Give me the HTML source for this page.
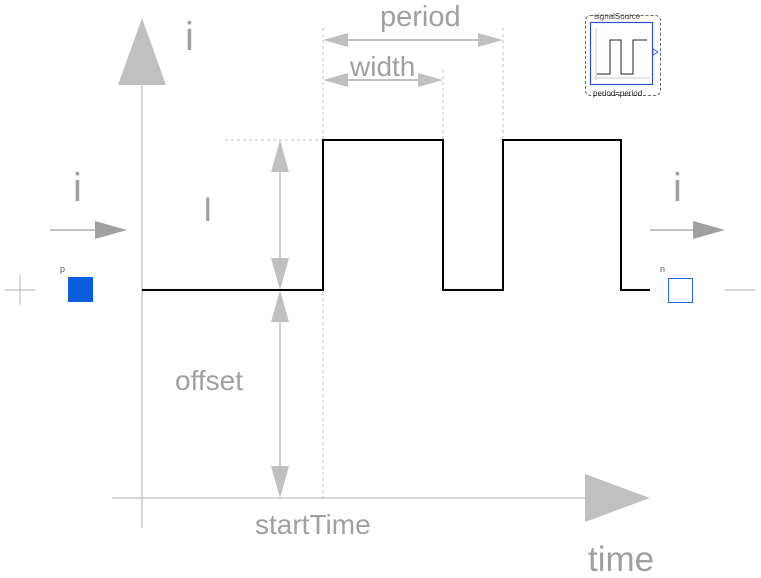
<!DOCTYPE html>
<html><head><meta charset="utf-8"><style>
body{margin:0;background:#fff}
svg{display:block}
text{font-family:"Liberation Sans",sans-serif;fill:#a0a0a0}
</style></head><body>
<svg width="761" height="578" viewBox="0 0 761 578">
<g>
<line x1="112" y1="498" x2="600" y2="498" stroke="#c8c8c8" stroke-width="1.5"/>
<polygon points="650,498 585,474 585,522" fill="#c0c0c0"/>
</g>
<g>
<line x1="142" y1="60" x2="142" y2="528" stroke="#c8c8c8" stroke-width="1.5"/>
<polygon points="142,18 118,85 166,85" fill="#c0c0c0"/>
</g>
<g stroke="#c0c0c0" stroke-dasharray="3,3" fill="none">
<line x1="323" y1="28" x2="323" y2="498"/>
<line x1="443" y1="70" x2="443" y2="140"/>
<line x1="503" y1="28" x2="503" y2="140"/>
<line x1="225" y1="140" x2="323" y2="140"/>
</g>
<g>
<line x1="340" y1="40" x2="486" y2="40" stroke="#c0c0c0" stroke-width="2"/>
<polygon points="323,40 348,33 348,47" fill="#c0c0c0"/>
<polygon points="503,40 478,33 478,47" fill="#c0c0c0"/>
<line x1="340" y1="80" x2="426" y2="80" stroke="#c0c0c0" stroke-width="2"/>
<polygon points="323,80 348,73 348,87" fill="#c0c0c0"/>
<polygon points="443,80 418,73 418,87" fill="#c0c0c0"/>
</g>
<g>
<line x1="280" y1="160" x2="280" y2="270" stroke="#c0c0c0" stroke-width="1.5"/>
<polygon points="280,140 271,172 289,172" fill="#c0c0c0"/>
<polygon points="280,290 271,258 289,258" fill="#c0c0c0"/>
<line x1="280" y1="310" x2="280" y2="478" stroke="#c0c0c0" stroke-width="1.5"/>
<polygon points="280,290 271,322 289,322" fill="#c0c0c0"/>
<polygon points="280,498 271,466 289,466" fill="#c0c0c0"/>
</g>
<polyline points="142,290 323,290 323,140 443,140 443,290 503,290 503,140 621,140 621,290 650,290" fill="none" stroke="#000" stroke-width="2"/>
<g>
<line x1="50" y1="230" x2="100" y2="230" stroke="#b0b0b0" stroke-width="1.5"/>
<polygon points="127,230 95,221 95,239" fill="#a0a0a0"/>
<line x1="650" y1="230" x2="700" y2="230" stroke="#b0b0b0" stroke-width="1.5"/>
<polygon points="725,230 693,221 693,239" fill="#a0a0a0"/>
</g>
<text x="185" y="50" font-size="40">i</text>
<text x="380" y="26" font-size="29">period</text>
<text x="350" y="76" font-size="28">width</text>
<text x="203" y="221" font-size="34">I</text>
<text x="175" y="390" font-size="28">offset</text>
<text x="255" y="534" font-size="28">startTime</text>
<text x="588" y="571" font-size="35">time</text>
<text x="73" y="201" font-size="40">i</text>
<text x="673" y="201" font-size="40">i</text>
<g stroke="#c0c0c0" stroke-width="1.2">
<line x1="5" y1="290" x2="35" y2="290"/><line x1="20" y1="275" x2="20" y2="305"/>
</g>
<line x1="725" y1="290" x2="755" y2="290" stroke="#c0c0c0" stroke-width="1.2"/>
<text x="60" y="272" font-size="9" style="fill:#555">p</text>
<rect x="68" y="277" width="25" height="25" fill="#0a5ddc"/>
<text x="660" y="272" font-size="9" style="fill:#555">n</text>
<rect x="668.5" y="278.5" width="24" height="24" fill="#fff" stroke="#2a6ad8"/>
<g>
<rect x="585.5" y="15.5" width="75" height="80" rx="5" fill="none" stroke="#666" stroke-dasharray="3,2"/>
<rect x="590.5" y="22.5" width="62" height="62" fill="#fff" stroke="#3050c8" stroke-width="1.2"/>
<line x1="596" y1="80" x2="596" y2="28" stroke="#ccc"/>
<line x1="594" y1="78" x2="650" y2="78" stroke="#ccc"/>
<polyline points="597,74 610,74 610,40 621,40 621,74 633,74 633,40 647,40" fill="none" stroke="#222" stroke-width="1"/>
<polygon points="653,49 658,52 653,55" fill="#fff" stroke="#3050c8" stroke-width="0.8"/>
<text x="594" y="19" font-size="8" style="fill:#444">signalSource</text>
<text x="593" y="96" font-size="8" style="fill:#222">period=period</text>
</g>
</svg>
</body></html>
